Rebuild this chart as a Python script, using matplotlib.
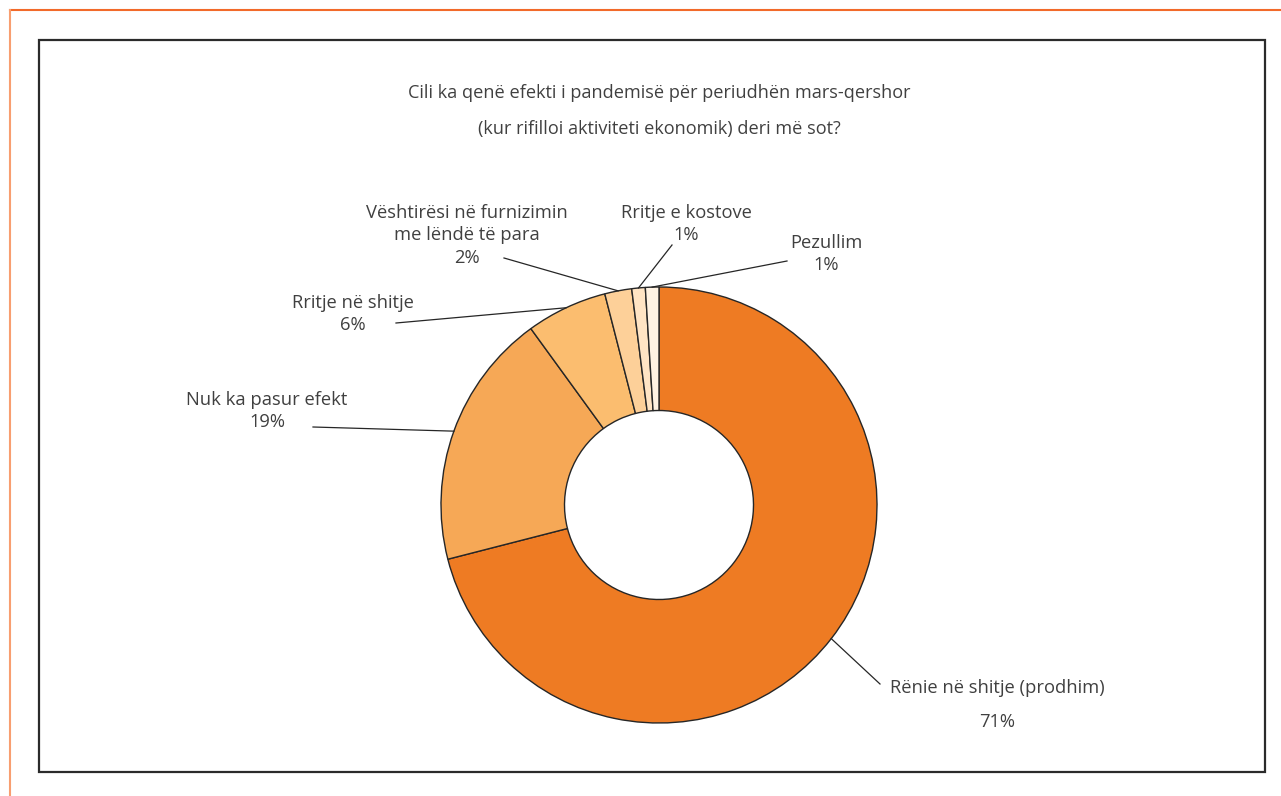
import numpy as np
import matplotlib
matplotlib.use("Agg")
import matplotlib.pyplot as plt
from matplotlib.patches import Rectangle
from matplotlib.lines import Line2D

W, H = 1281, 796

# data
categories = [
    "Rënie në shitje (prodhim)",
    "Nuk ka pasur efekt",
    "Rritje në shitje",
    "Vështirësi në furnizimin\nme lëndë të para",
    "Rritje e kostove",
    "Pezullim",
]
values = [71, 19, 6, 2, 1, 1]
pct_labels = ["71%", "19%", "6%", "2%", "1%", "1%"]
colors = ["#EE7B23", "#F6A856", "#FBBD6F", "#FDD099", "#FFE4C4", "#FFF2E2"]

title = ("Cili ka qenë efekti i pandemisë për periudhën mars-qershor",
         "(kur rifilloi aktiviteti ekonomik) deri më sot?")

txt_color = "#404040"
plt.rcParams["font.family"] = ["Open Sans", "DejaVu Sans"]

fig = plt.figure(figsize=(W / 100, H / 100), dpi=100)
ax = fig.add_axes([0, 0, 1, 1])


def py(y):
    # image pixel row -> data y
    return H - y


cx, cy, r_out, r_in = 659, py(505), 218, 94.5
wedges, _ = ax.pie(values, colors=colors, startangle=90, counterclock=False,
                   center=(cx, cy), radius=r_out,
                   wedgeprops=dict(width=r_out - r_in, edgecolor="#262626",
                                   linewidth=1.0))
ax.set_xlim(0, W)
ax.set_ylim(0, H)
ax.set_aspect("equal")
ax.axis("off")

# outer decorations
fig.add_artist(Line2D([10 / W, 1], [py(10) / H, py(10) / H], color="#F26A2A",
                      lw=1.5))
fig.add_artist(Line2D([10 / W, 10 / W], [py(10) / H, 0], color="#F89E70",
                      lw=1.5))
ax.add_patch(Rectangle((39, py(772)), 1226, 732, fill=False,
                       edgecolor="#2b2b2b", lw=1.6, zorder=0))

# title
ax.text(659, py(93), title[0], ha="center", va="center", fontsize=13.1,
        color=txt_color)
ax.text(659, py(129), title[1], ha="center", va="center", fontsize=13.1,
        color=txt_color)

# label positions (text centre of first line) and leader-line text ends
label_pos = [(997, 688), (267, 400), (353, 303), (467, 213), (686, 213),
             (826, 243)]
line_start = [(880, 684), (313, 427), (396, 323), (504, 258), (672, 245),
              (787, 261)]
gaps = [34, 22, 22, 22.5, 22, 22.5]

for i, w in enumerate(wedges):
    lx, ly = label_pos[i]
    lines = categories[i].split("\n") + [pct_labels[i]]
    for k, s in enumerate(lines):
        ax.text(lx, py(ly + k * gaps[i]), s, ha="center", va="center",
                fontsize=13.2, color=txt_color)
    mid = np.deg2rad((w.theta1 + w.theta2) / 2)
    ex = cx + r_out * np.cos(mid)
    ey = cy + r_out * np.sin(mid)
    sx, sy = line_start[i]
    ax.plot([sx, ex], [py(sy), ey], color="#262626", lw=0.9, zorder=3)

fig.savefig("out.png", dpi=100)
